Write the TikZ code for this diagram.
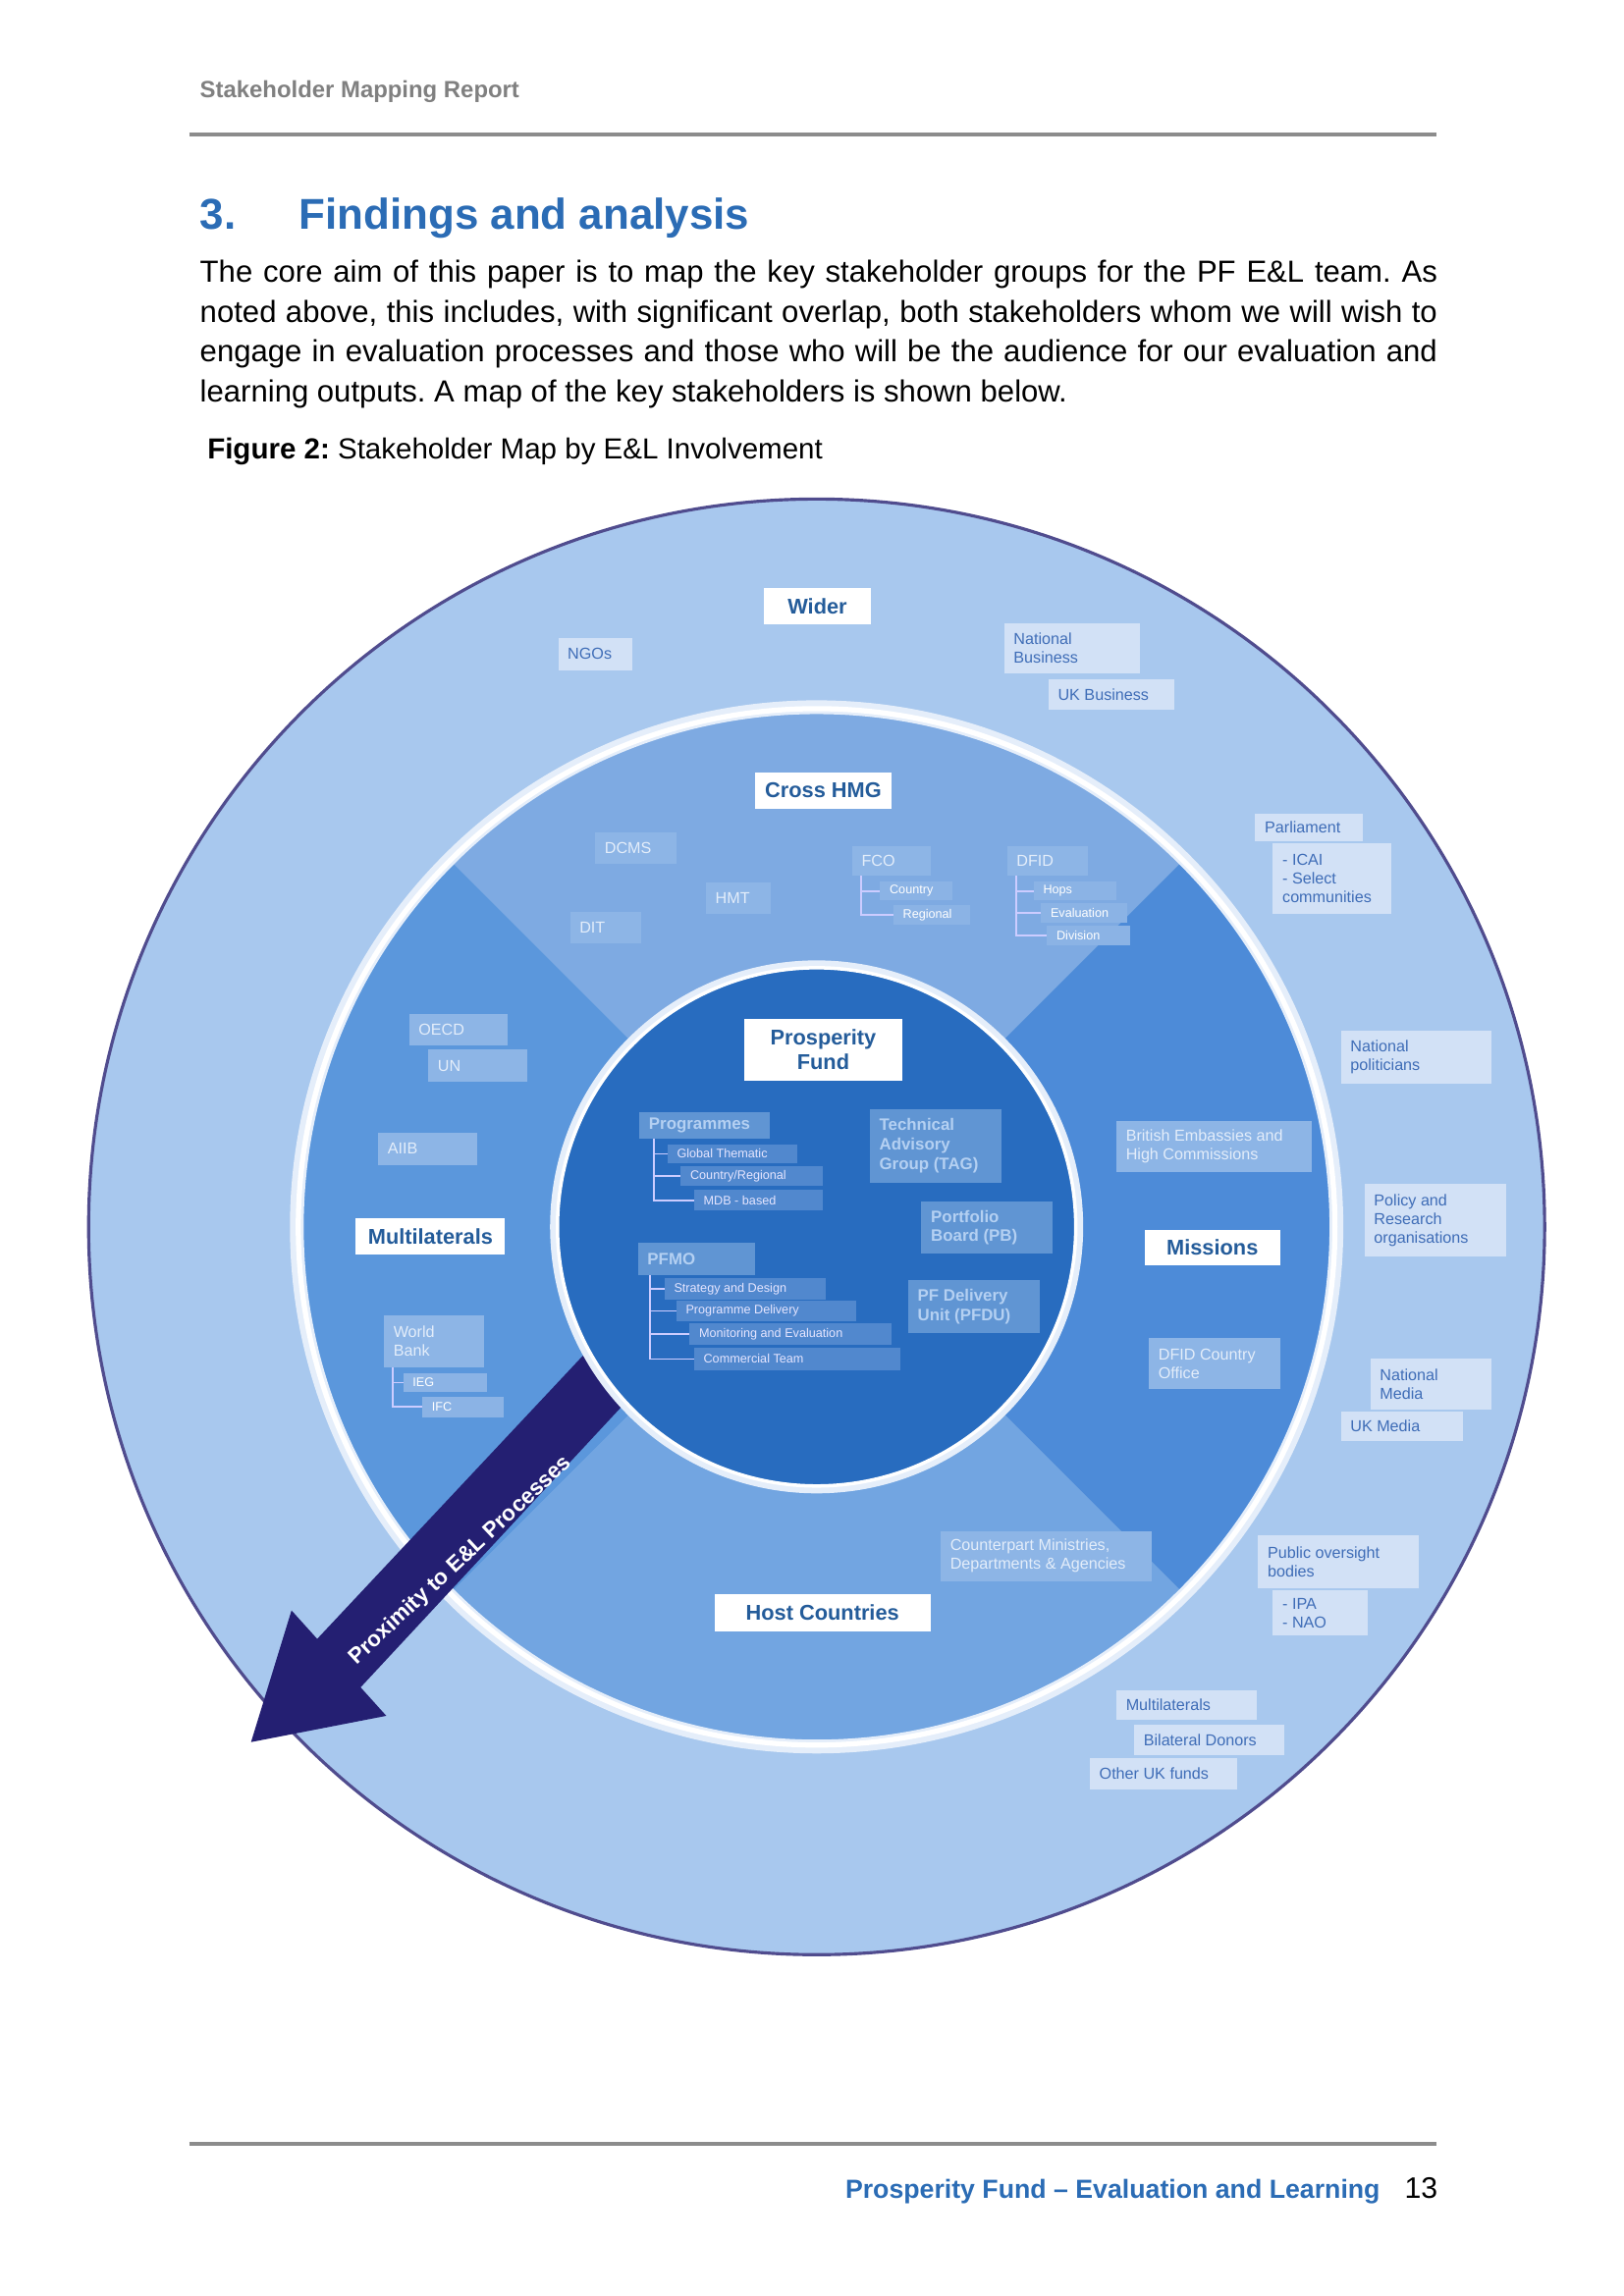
\documentclass[tikz,border=0pt]{standalone}
\usepackage{fontspec}
\setmainfont{Liberation Sans}
\begin{document}
\frenchspacing
\definecolor{hd}{HTML}{2B6CB5}
\definecolor{outer}{HTML}{A8C8EE}
\definecolor{qtop}{HTML}{7EAAE2}
\definecolor{qleft}{HTML}{5B97DC}
\definecolor{qright}{HTML}{4D8BD8}
\definecolor{qbot}{HTML}{72A5E1}
\definecolor{inner}{HTML}{286CBF}
\definecolor{navy}{HTML}{241F72}
\definecolor{obox}{HTML}{D2E1F6}
\definecolor{otxt}{HTML}{3F6DB7}
\definecolor{ibox}{HTML}{6095D3}
\definecolor{itxt}{HTML}{B4D0F2}
\definecolor{sbox}{HTML}{5188CE}
\definecolor{mbox}{HTML}{8DB5E6}
\definecolor{mtxt}{HTML}{E3EDFA}
\begin{tikzpicture}[x=0.01504cm,y=-0.01504cm,
  o/.style={fill=obox},
  o txt/.style={text=otxt,font=\fontsize{4.6}{5.4}\selectfont,inner sep=0},
  m/.style={fill=mbox},
  m txt/.style={text=mtxt,font=\fontsize{4.6}{5.4}\selectfont,inner sep=0},
  i/.style={fill=ibox},
  i txt/.style={text=itxt,font=\bfseries\fontsize{4.8}{5.6}\selectfont,inner sep=0},
  s/.style={fill=sbox},
  s txt/.style={text=white!90!blue,font=\fontsize{3.6}{4.2}\selectfont,inner sep=0},
  sm/.style={fill=mbox!85!qtop},
  sm txt/.style={text=white,font=\fontsize{3.6}{4.2}\selectfont,inner sep=0},
  w/.style={fill=white},
  w txt/.style={text=hd!85!black,font=\bfseries\fontsize{6.2}{7}\selectfont,inner sep=0,align=center},
  tree/.style={draw=white!80!blue,line width=0.5pt}]
\newcommand\bx[7]{\fill[#6] (#2,#3) rectangle (#4,#5);
  \node[#6 txt,anchor=west,align=left] (#1) at ({#2+6},{(#3+#5)/2}) {#7};}
\newcommand\wb[6]{\fill[w] (#2,#3) rectangle (#4,#5);
  \node[w txt] (#1) at ({(#2+#4)/2},{(#3+#5)/2}) {#6};}
\useasboundingbox (0,0) rectangle (1099.7,1555.2);
\fill[white] (0,0) rectangle (1099.7,1555.2);
% header
\node[anchor=base west,text=black!50,font=\bfseries\fontsize{6.8}{8}\selectfont,inner sep=0] (hdr) at (135,66) {Stakeholder Mapping Report};
\coordinate (l1a) at (128,91); \coordinate (l1b) at (973,91);
\draw[black!45,line width=1pt] (l1a) -- (l1b);
\node[anchor=base west,text=hd,font=\bfseries\fontsize{12.5}{14}\selectfont,inner sep=0] (sec) at (135,155) {3.};
\node[anchor=base west,text=hd,font=\bfseries\fontsize{12.5}{14}\selectfont,inner sep=0] (ttl) at (202,155) {Findings and analysis};
\node[anchor=north west,text width=358.7pt,align=justify,font=\fontsize{8.85}{11.5}\selectfont,inner sep=0] (para) at (135,176) {The core aim of this paper is to map the key stakeholder groups for the PF E\&L team. As noted above, this includes, with significant overlap, both stakeholders whom we will wish to engage in evaluation processes and those who will be the audience for our evaluation and learning outputs. A map of the key stakeholders is shown below.};
\node[anchor=base west,font=\fontsize{8.4}{10}\selectfont,inner sep=0] (cap) at (140,311) {\textbf{Figure 2:} Stakeholder Map by E\&L Involvement};
% circles
\coordinate (c) at (553,831);
\fill[outer] (c) circle (493);
\draw[navy!80,line width=0.9pt] (c) circle (493);
\begin{scope}[shift={(c)}]
\fill[qtop] (0,0) -- (225:350) arc[start angle=225,end angle=315,radius=350] -- cycle;
\fill[qright] (0,0) -- (-45:350) arc[start angle=-45,end angle=45,radius=350] -- cycle;
\fill[qbot] (0,0) -- (45:350) arc[start angle=45,end angle=135,radius=350] -- cycle;
\fill[qleft] (0,0) -- (135:350) arc[start angle=135,end angle=225,radius=350] -- cycle;
\end{scope}
\draw[white!70!outer,line width=4pt] (c) circle (352);
\draw[white,line width=1.5pt] (c) circle (351);
% arrow
\fill[navy] (470,900) -- (244.2,1142.9) -- (261.6,1162.2) -- (170,1180) -- (197.4,1090.8) -- (214.8,1110.1) -- (440,870) -- cycle;
\node[rotate=43,text=white,font=\bfseries\fontsize{6.4}{7}\selectfont,inner sep=0] (arr) at (312,1057) {Proximity to E\&L Processes};
\draw[white!70!outer,line width=3pt] (c) circle (177);
\fill[inner] (c) circle (175);
\draw[white,line width=1pt] (c) circle (175.5);
% outer ring labels
\wb{wider}{517}{398}{590}{423}{Wider}
\bx{ngo}{378}{432}{428}{454}{o}{NGOs}
\bx{nb}{680}{422}{772}{456}{o}{National\\Business}
\bx{ukb}{710}{460}{795}{481}{o}{UK Business}
\bx{parl}{850}{551}{923}{570}{o}{Parliament}
\bx{icai}{862}{571}{942}{619}{o}{- ICAI\\- Select\\communities}
\bx{npol}{908}{698}{1010}{734}{o}{National\\politicians}
\bx{pol}{924}{802}{1020}{851}{o}{Policy and\\Research\\organisations}
\bx{nmed}{928}{920}{1010}{955}{o}{National\\Media}
\bx{ukm}{908}{956}{991}{976}{o}{UK Media}
\bx{pob}{852}{1040}{961}{1076}{o}{Public oversight\\bodies}
\bx{ipa}{862}{1077}{926}{1108}{o}{- IPA\\- NAO}
\bx{mult}{756}{1145}{851}{1165}{o}{Multilaterals}
\bx{bil}{768}{1168}{870}{1189}{o}{Bilateral Donors}
\bx{oth}{738}{1191}{838}{1212}{o}{Other UK funds}
% middle ring
\wb{xhmg}{511}{523}{604}{548}{Cross HMG}
\bx{dcms}{403}{564}{458}{585}{m}{DCMS}
\bx{hmt}{478}{598}{522}{619}{m}{HMT}
\bx{dit}{386}{618}{434}{639}{m}{DIT}
\bx{fco}{577}{573}{630}{593}{m}{FCO}
\bx{fcoc}{596}{597}{645}{610}{sm}{Country}
\bx{fcor}{605}{613}{657}{626}{sm}{Regional}
\draw[tree] (583,593) -- (583,619.5) -- (605,619.5) (583,603.5) -- (596,603.5);
\bx{dfid}{682}{573}{737}{593}{m}{DFID}
\bx{hops}{700}{597}{756}{610}{sm}{Hops}
\bx{eval}{705}{612}{763}{625}{sm}{Evaluation}
\bx{div}{709}{627}{765}{640}{sm}{Division}
\draw[tree] (688,593) -- (688,633.5) -- (709,633.5) (688,603.5) -- (700,603.5) (688,618.5) -- (705,618.5);
\bx{oecd}{277}{687}{344}{708}{m}{OECD}
\bx{un}{290}{711}{357}{733}{m}{UN}
\bx{aiib}{256}{767}{323}{789}{m}{AIIB}
\wb{mlt}{241}{825}{342}{850}{Multilaterals}
\bx{wb}{260}{891}{328}{926}{m}{World\\Bank}
\bx{ieg}{273}{930}{330}{943}{sm}{IEG}
\bx{ifc}{286}{946}{341}{960}{sm}{IFC}
\draw[tree] (266,926) -- (266,953) -- (286,953) (266,936.5) -- (273,936.5);
\bx{emb}{756}{759}{888}{794}{m}{British Embassies and\\High Commissions}
\wb{mis}{775}{833}{867}{857}{Missions}
\bx{dco}{778}{906}{867}{941}{m}{DFID Country\\Office}
\bx{cmd}{637}{1037}{780}{1071}{m}{Counterpart Ministries,\\Departments \& Agencies}
\wb{hc}{484}{1080}{630}{1105}{Host Countries}
% inner circle
\wb{pf}{504}{690}{611}{732}{Prosperity\\Fund}
\bx{prog}{433}{753}{521}{771}{i}{Programmes}
\bx{gt}{452}{775}{540}{788}{s}{Global Thematic}
\bx{cr}{461}{790}{557}{803}{s}{Country/Regional}
\bx{mdb}{470}{806}{557}{820}{s}{MDB - based}
\draw[tree] (443,771) -- (443,813) -- (470,813) (443,781.5) -- (452,781.5) (443,796.5) -- (461,796.5);
\bx{tag}{589}{751}{678}{801}{i}{Technical\\Advisory\\Group (TAG)}
\bx{pb}{624}{814}{713}{849}{i}{Portfolio\\Board (PB)}
\bx{pfmo}{432}{842}{511}{864}{i}{PFMO}
\bx{sd}{450}{866}{559}{880}{s}{Strategy and Design}
\bx{pd}{458}{881}{580}{895}{s}{Programme Delivery}
\bx{me}{467}{896}{604}{911}{s}{Monitoring and Evaluation}
\bx{ct}{470}{913}{610}{928}{s}{Commercial Team}
\draw[tree] (440,864) -- (440,920.5) -- (470,920.5) (440,873) -- (450,873) (440,888) -- (458,888) (440,903.5) -- (467,903.5);
\bx{pfdu}{615}{867}{704}{903}{i}{PF Delivery\\Unit (PFDU)}
% footer
\coordinate (l2a) at (128,1452); \coordinate (l2b) at (973,1452);
\draw[black!45,line width=1pt] (l2a) -- (l2b);
\node[anchor=base east,text=hd,font=\bfseries\fontsize{7.6}{9}\selectfont,inner sep=0] (ft) at (935,1489) {Prosperity Fund -- Evaluation and Learning};
\node[anchor=base east,font=\fontsize{8.6}{10}\selectfont,inner sep=0] (pg) at (974,1489) {13};
\end{tikzpicture}
\end{document}
